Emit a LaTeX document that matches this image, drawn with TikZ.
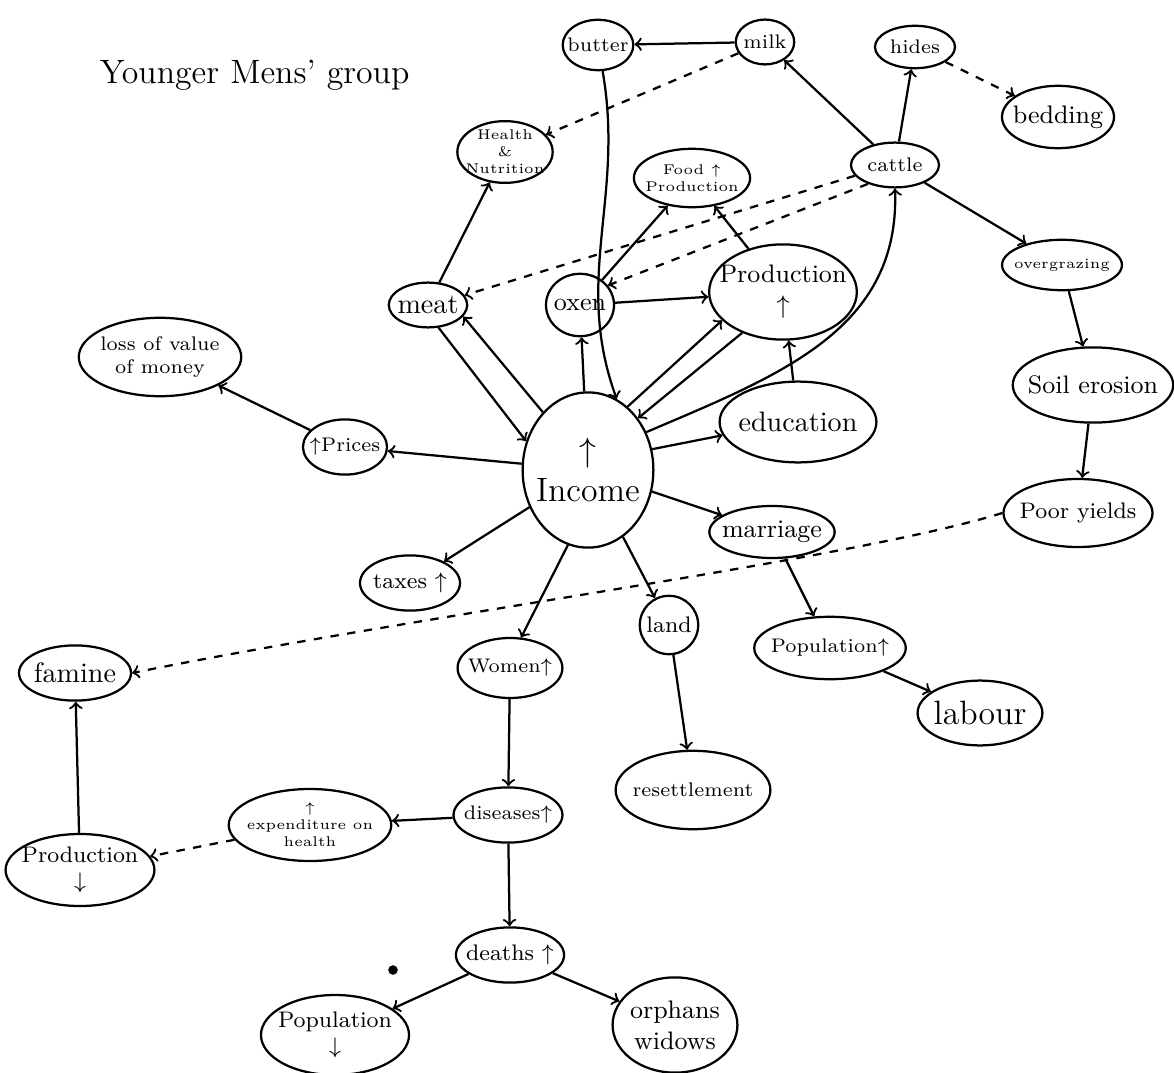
\documentclass[tikz,border=0pt]{standalone}
\usetikzlibrary{shapes.geometric}
\begin{document}
\begin{tikzpicture}[x=0.0125cm, y=-0.0125cm,
  blob/.style={draw, ellipse, thick, inner xsep=-2pt, inner ysep=0pt, align=center},
  faint/.style={dashed}]
\useasboundingbox (0,0) rectangle (1174,1073);

\node[anchor=west, font=\large] (title) at (90,75) {Younger Mens' group};

\node[blob, font=\scriptsize, minimum width=0.78cm, minimum height=0.63cm] (butter) at (598,45) {butter};
\node[blob, font=\scriptsize, minimum width=0.73cm, minimum height=0.56cm] (milk) at (765,42) {milk};
\node[blob, font=\scriptsize, minimum width=1.0cm, minimum height=0.53cm] (hides) at (915,47) {hides};
\node[blob, font=\small, minimum width=1.4cm, minimum height=0.78cm] (bedding) at (1058,117) {bedding};
\node[blob, font=\tiny, minimum width=0.98cm, minimum height=0.69cm] (health) at (505,152) {Health\\\&\\Nutrition};
\node[blob, font=\tiny, minimum width=1.15cm, minimum height=0.73cm] (food) at (692,178) {Food $\uparrow$\\Production};
\node[blob, font=\scriptsize, minimum width=1.1cm, minimum height=0.56cm] (cattle) at (895,165) {cattle};
\node[blob, font=\tiny, minimum width=1.15cm, minimum height=0.63cm] (overgrazing) at (1062,265) {overgrazing};
\node[blob, font=\normalsize, minimum width=0.98cm, minimum height=0.56cm] (meat) at (428,305) {meat};
\node[blob, font=\small, minimum width=0.85cm, minimum height=0.78cm] (oxen) at (580,305) {oxen};
\node[blob, font=\small, inner xsep=-4pt, minimum width=1.79cm, minimum height=1.19cm] (prod) at (783,292) {Production\\$\uparrow$};
\node[blob, font=\scriptsize, minimum width=2.03cm, minimum height=0.98cm] (loss) at (160,357) {loss of value\\of money};
\node[blob, font=\scriptsize, minimum width=1.0cm, minimum height=0.69cm] (prices) at (345,447) {$\uparrow$Prices};
\node[blob, font=\large, minimum width=1.63cm, minimum height=1.94cm] (income) at (588,470) {$\uparrow$\\Income};
\node[blob, font=\normalsize, minimum width=1.96cm, minimum height=1.01cm] (education) at (798,422) {education};
\node[blob, font=\small, inner xsep=-3pt, minimum width=1.88cm, minimum height=0.94cm] (soil) at (1093,385) {Soil erosion};
\node[blob, font=\footnotesize, minimum width=1.75cm, minimum height=0.85cm] (poor) at (1078,513) {Poor yields};
\node[blob, font=\small, minimum width=1.4cm, minimum height=0.65cm] (marriage) at (772,532) {marriage};
\node[blob, font=\footnotesize, minimum width=1.25cm, minimum height=0.69cm] (taxes) at (410,583) {taxes $\uparrow$};
\node[blob, font=\footnotesize, minimum width=0.73cm, minimum height=0.73cm] (land) at (669,625) {land};
\node[blob, font=\scriptsize, minimum width=1.63cm, minimum height=0.78cm] (popup) at (830,648) {Population$\uparrow$};
\node[blob, font=\normalsize, minimum width=1.4cm, minimum height=0.69cm] (famine) at (75,673) {famine};
\node[blob, font=\scriptsize, minimum width=1.31cm, minimum height=0.75cm] (women) at (510,668) {Women$\uparrow$};
\node[blob, font=\large, minimum width=1.56cm, minimum height=0.81cm] (labour) at (980,713) {labour};
\node[blob, font=\scriptsize, minimum width=1.69cm, minimum height=0.98cm] (resettle) at (693,790) {resettlement};
\node[blob, font=\tiny, minimum width=1.69cm, minimum height=0.9cm] (expend) at (310,825) {$\uparrow$\\expenditure on\\health};
\node[blob, font=\scriptsize, minimum width=1.35cm, minimum height=0.69cm] (diseases) at (508,815) {diseases$\uparrow$};
\node[blob, font=\footnotesize, minimum width=1.69cm, minimum height=0.9cm] (proddown) at (80,870) {Production\\$\downarrow$};
\node[blob, font=\footnotesize, minimum width=1.35cm, minimum height=0.69cm] (deaths) at (510,955) {deaths $\uparrow$};
\node[blob, font=\footnotesize, minimum width=1.85cm, minimum height=1.0cm] (popdown) at (335,1035) {Population\\$\downarrow$};
\node[blob, font=\small, minimum width=1.56cm, minimum height=1.19cm] (orphans) at (675,1025) {orphans\\widows};
\node[circle, fill, inner sep=1.2pt] (dot) at (393,970) {};

\path[draw,thick,->] (milk) -- (butter);
\path[draw,thick,->,faint] (milk) -- (health);
\path[draw,thick,->] (butter) to[out=-80,in=110] (income.68);
\path[draw,thick,->] (cattle) -- (milk);
\path[draw,thick,->] (cattle) -- (hides);
\path[draw,thick,->,faint] (hides) -- (bedding);
\path[draw,thick,->] (cattle) -- (overgrazing);
\path[draw,thick,->] (overgrazing) -- (soil);
\path[draw,thick,->] (soil) -- (poor);
\path[draw,thick,->,faint] (poor.west) .. controls (850,560) and (420,615) .. (famine.east);
\path[draw,thick,->,faint] (cattle.195) -- (meat.15);
\path[draw,thick,->,faint] (cattle.215) -- (oxen.35);
\path[draw,thick,->] (income.33) .. controls (780,375) and (900,330) .. (cattle.south);
\path[draw,thick,->] (oxen) -- (food);
\path[draw,thick,->] (prod) -- (food);
\path[draw,thick,->] (oxen) -- (prod);
\path[draw,thick,->] (education) -- (prod);
\path[draw,thick,->] (income) -- (oxen);
\path[draw,thick,->] (meat) -- (health);
\path[draw,thick,->] (meat.-65) -- (income.155);
\path[draw,thick,->] (income.128) -- (meat.-18);
\path[draw,thick,->] (income.58) -- (prod.205);
\path[draw,thick,->] (prod.225) -- (income.46);
\path[draw,thick,->] (income.18) -- (education.190);
\path[draw,thick,->] (income) -- (prices);
\path[draw,thick,->] (prices) -- (loss);
\path[draw,thick,->] (income) -- (taxes);
\path[draw,thick,->] (income.255) -- (women.70);
\path[draw,thick,->] (income) -- (land);
\path[draw,thick,->] (income) -- (marriage);
\path[draw,thick,->] (marriage) -- (popup);
\path[draw,thick,->] (popup) -- (labour);
\path[draw,thick,->] (land) -- (resettle);
\path[draw,thick,->] (women) -- (diseases);
\path[draw,thick,->] (diseases) -- (expend);
\path[draw,thick,->,faint] (expend) -- (proddown);
\path[draw,thick,->] (proddown) -- (famine);
\path[draw,thick,->] (diseases) -- (deaths);
\path[draw,thick,->] (deaths) -- (popdown);
\path[draw,thick,->] (deaths) -- (orphans);
\end{tikzpicture}
\end{document}
